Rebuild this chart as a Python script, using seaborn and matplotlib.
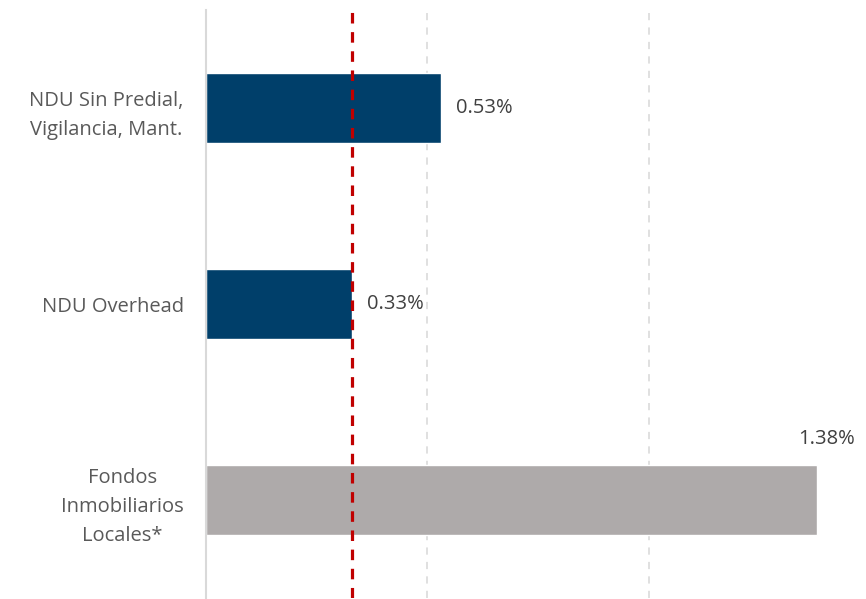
import numpy as np
import pandas as pd
import matplotlib
matplotlib.use('Agg')
import matplotlib.pyplot as plt
import seaborn as sns

# Chart data
categories = ['NDU Sin Predial,\nVigilancia, Mant.', 'NDU Overhead', 'Fondos\nInmobiliarios\nLocales*']
values = [0.53, 0.33, 1.38]
groups = ['NDU', 'NDU', 'Fondos']
benchmark = 0.33
grid_ticks = [0.5, 1.0]

sns.set_theme(style='white')
plt.rcParams['font.family'] = ['Open Sans', 'DejaVu Sans']

df = pd.DataFrame({'categoria': categories, 'valor': values, 'grupo': groups})
palette = {'NDU': '#003F6A', 'Fondos': '#AEAAAA'}

fig = plt.figure(figsize=(8.66, 5.99), dpi=100)
ax = fig.add_axes([206 / 866, 1 / 599, (850 - 206) / 866, (589 - 1) / 599])

sns.barplot(data=df, y='categoria', x='valor', hue='grupo', palette=palette,
            dodge=False, width=0.355, legend=False, ax=ax, saturation=1)

ax.set_xlim(0, 1.455)
ax.set_ylim(2.5, -0.5)

# grid lines and benchmark
for g in grid_ticks:
    ax.axvline(g, color='#DDDDDD', lw=1.3, ls=(0, (4, 4)), zorder=0)
ax.axvline(benchmark, color='#C00000', lw=2.3, ls=(0, (3.3, 2.7)), zorder=3)

# value labels
for i, v in enumerate(values):
    if i == 2:
        ax.annotate(f'{v:.2f}%', xy=(v, i), xytext=(7, 44), textcoords='offset points',
                    ha='center', va='center', fontsize=14.5, color='#404040')
    else:
        ax.annotate(f'{v:.2f}%', xy=(v, i), xytext=(11, 0), textcoords='offset points',
                    ha='left', va='center', fontsize=14.5, color='#404040')

for s in ['top', 'right', 'bottom']:
    ax.spines[s].set_visible(False)
ax.spines['left'].set_color('#D9D9D9')
ax.spines['left'].set_linewidth(1.5)

ax.set_xticks([])
ax.set_xlabel('')
ax.set_ylabel('')
ax.tick_params(axis='y', length=0, pad=16)
for lbl in ax.get_yticklabels():
    lbl.set_fontsize(14.5)
    lbl.set_color('#595959')
    lbl.set_multialignment('center')
    lbl.set_linespacing(1.6)

fig.savefig('out.png', dpi=100)
